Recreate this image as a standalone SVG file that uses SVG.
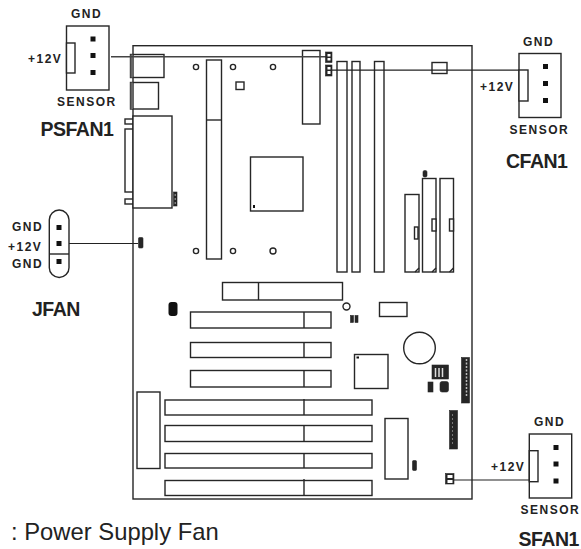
<svg xmlns="http://www.w3.org/2000/svg" width="581" height="549" viewBox="0 0 581 549">
<style>
.l{fill:#fff;stroke:#262626;stroke-width:1.4}
.n{fill:none;stroke:#262626;stroke-width:1.4}
.w{fill:none;stroke:#222;stroke-width:1.2}
.k{fill:#262626;stroke:#262626;stroke-width:.6}
.p{fill:#111}
.g{fill:#666}
.t{font-family:"Liberation Sans",Arial,sans-serif;font-weight:bold;font-size:12px;letter-spacing:1.5px;fill:#222}
.h{font-family:"Liberation Sans",Arial,sans-serif;font-weight:bold;font-size:19.500px;letter-spacing:-.5px;fill:#222}
.f{font-family:"Liberation Sans",Arial,sans-serif;font-size:23.800px;fill:#222}
</style>
<rect width="581" height="549" fill="#fff"/>
<g id="board">
<rect class="l" x="133" y="45.700" width="339" height="453.300"/>
<rect class="n" x="130.500" y="54.500" width="33.500" height="23"/><rect class="g" x="130.500" y="54.500" width="2.500" height="23"/>
<rect class="n" x="130.500" y="82.500" width="28" height="26.500"/><rect class="g" x="130.500" y="82.500" width="2.500" height="26.500"/>
<rect class="l" x="125" y="119" width="8" height="5"/><rect class="l" x="125" y="129" width="8" height="63"/><rect class="l" x="125" y="199" width="8" height="5"/>
<rect class="l" x="133" y="116" width="39" height="92"/>
<rect class="k" x="173.500" y="192" width="3.500" height="14"/><path d="M175.200 194V204" stroke="#aaa" stroke-dasharray="2 2" fill="none"/>
<rect class="l" x="206.500" y="60" width="15" height="199"/><path class="n" d="M206.500 120H221.500"/>
<g class="n"><circle cx="196" cy="67" r="2.600"/><circle cx="233" cy="67" r="2.600"/><circle cx="273" cy="67" r="2.600"/><circle cx="196" cy="251" r="2.600"/><circle cx="233" cy="251" r="2.600"/><circle cx="273" cy="251" r="3"/></g>
<rect class="n" x="236" y="82" width="8" height="7.500"/>
<rect class="l" x="250.500" y="157" width="52.500" height="54"/><rect class="p" x="253" y="205" width="2" height="3"/>
<rect class="l" x="302.500" y="50.500" width="17.500" height="73.500"/>
<rect class="l" x="337" y="61.500" width="10" height="210.500"/><rect class="l" x="352" y="61.500" width="8" height="210.500"/><rect class="l" x="374.500" y="61.500" width="9.500" height="210.500"/>
<rect class="l" x="432" y="62.500" width="15" height="11"/>
<rect class="l" x="405" y="194.500" width="14" height="77.500"/><rect class="l" x="422.500" y="178.500" width="13.500" height="93.500"/><rect class="l" x="440" y="178.500" width="13.500" height="93.500"/>
<rect class="l" x="414.500" y="227" width="3.500" height="12"/><rect class="l" x="432" y="219" width="4" height="12"/><rect class="l" x="449.500" y="219" width="4" height="12"/>
<path class="n" d="M415 272L419 268M432 272L436 268M449.500 272L453.500 268"/>
<rect class="k" x="423" y="170.500" width="4" height="6.500" rx="1.500"/>
<rect class="l" x="222.500" y="282.500" width="120" height="17.500"/><path class="n" d="M258.500 282.500V300"/>
<rect class="p" x="168.500" y="302" width="9" height="14" rx="3"/>
<rect class="l" x="190.500" y="312" width="140.500" height="16"/><rect class="l" x="190.500" y="342.500" width="140.500" height="15"/><rect class="l" x="190.500" y="370.500" width="140.500" height="16.500"/>
<rect class="l" x="165" y="400" width="207" height="15"/><rect class="l" x="165" y="425.500" width="207" height="16"/><rect class="l" x="165" y="453.500" width="207" height="14.500"/><rect class="l" x="165" y="480.500" width="207" height="15"/>
<path class="n" d="M304 312V328M304 342.500V357.500M304 370.500V387M304 399V415M304 425V441.500M304 453V468M304 479V495.500"/>
<rect class="l" x="137" y="392" width="23" height="76.500"/>
<circle class="n" cx="346.500" cy="306.500" r="3.500"/>
<rect class="l" x="379.500" y="302.500" width="27.500" height="14"/>
<rect class="k" x="350.500" y="315.500" width="3" height="7"/><rect class="k" x="355" y="315.500" width="3" height="7"/>
<circle class="l" cx="419.500" cy="348" r="15.800"/>
<rect class="l" x="354.500" y="354.500" width="33.500" height="34"/><rect class="p" x="356.500" y="356.500" width="2.500" height="2"/>
<rect class="k" x="432" y="365" width="16.500" height="14"/><path d="M435.500 368V377M439 368V377M442.500 368V377" stroke="#ddd" stroke-width="1.500" fill="none"/>
<rect class="k" x="428" y="382" width="5" height="10"/><rect class="k" x="440" y="381.500" width="8.500" height="10.500" rx="2"/>
<rect class="k" x="461.500" y="357.500" width="8" height="45.500"/><path d="M466.500 359V396" stroke="#bbb" stroke-width="1.500" stroke-dasharray="2 1.500" fill="none"/>
<rect class="k" x="449.500" y="410.500" width="8" height="38.500"/><path d="M452.500 414V446" stroke="#777" stroke-width="1" stroke-dasharray="2 2" fill="none"/>
<rect class="l" x="385" y="418.500" width="23" height="60.500"/>
<rect class="k" x="412.500" y="460.500" width="4" height="10" rx="1"/>
</g>
<g id="connectors">
<path fill="none" stroke="#444" stroke-width="1.600" d="M111 56.700H326"/>
<path class="w" d="M332 70.200H519"/>
<path class="w" d="M69 243.500H138"/>
<path class="w" d="M454 480H529"/>
</g>
<g id="jumpers">
<rect class="k" x="325.500" y="52" width="6.500" height="10.500"/><rect x="327.500" y="54" width="3" height="2.500" fill="#fff"/><rect x="327.500" y="58" width="3" height="2.500" fill="#fff"/>
<rect class="k" x="325.500" y="65" width="6.500" height="11"/><rect x="327.500" y="67" width="3" height="2.500" fill="#fff"/><rect x="327.500" y="71" width="3" height="3" fill="#fff"/>
<rect class="k" x="138.500" y="237.500" width="4.500" height="10.500" rx="1"/>
<rect class="k" x="445.500" y="473.500" width="8.500" height="10.500"/><rect x="447.500" y="475" width="5" height="3" fill="#fff"/><rect x="447.500" y="480" width="5" height="3" fill="#fff"/>
</g>
<g id="PSFAN1">
<rect class="l" x="66.500" y="26" width="42.500" height="64"/><rect class="l" x="66.500" y="43" width="8.500" height="30"/>
<rect class="p" x="90.500" y="36.500" width="5" height="5"/><rect class="p" x="90.500" y="53" width="5" height="5"/><rect class="p" x="90.500" y="70" width="5" height="5"/>
<text class="t" x="71" y="17.500">GND</text><text class="t" x="28" y="63">+12V</text><text class="t" x="57" y="106">SENSOR</text>
<text class="h" x="40.500" y="136">PSFAN1</text>
</g>
<g id="CFAN1">
<rect class="l" x="519" y="53.500" width="42" height="64"/><rect class="l" x="519" y="70" width="9" height="31"/>
<rect class="p" x="543" y="64" width="5" height="5"/><rect class="p" x="543" y="81" width="5" height="5"/><rect class="p" x="543" y="98" width="5" height="5"/>
<text class="t" x="523" y="45.500">GND</text><text class="t" x="480" y="91">+12V</text><text class="t" x="509.500" y="134">SENSOR</text>
<text class="h" x="506" y="167.500">CFAN1</text>
</g>
<g id="JFAN">
<rect class="l" x="49.300" y="210" width="19.700" height="67.500" rx="9.850"/><path class="n" d="M49.300 254H69"/>
<rect class="p" x="56.500" y="225" width="5" height="5"/><rect class="p" x="56.500" y="241" width="5" height="5"/><rect class="p" x="56.500" y="259" width="5" height="5"/>
<text class="t" x="12" y="231">GND</text><text class="t" x="8" y="251">+12V</text><text class="t" x="12" y="267.700">GND</text>
<text class="h" x="32" y="315.700">JFAN</text>
</g>
<g id="SFAN1">
<rect class="l" x="529.300" y="434" width="42.400" height="64"/><rect class="l" x="529.300" y="450.700" width="8.700" height="31"/>
<rect class="p" x="553.500" y="445" width="5" height="5"/><rect class="p" x="553.500" y="461.500" width="5" height="5"/><rect class="p" x="553.500" y="478.500" width="5" height="5"/>
<text class="t" x="534" y="425.700">GND</text><text class="t" x="491" y="471">+12V</text><text class="t" x="520.500" y="514">SENSOR</text>
<text class="h" x="518.500" y="546">SFAN1</text>
</g>
<text class="f" x="11" y="540">: Power Supply Fan</text>
</svg>
